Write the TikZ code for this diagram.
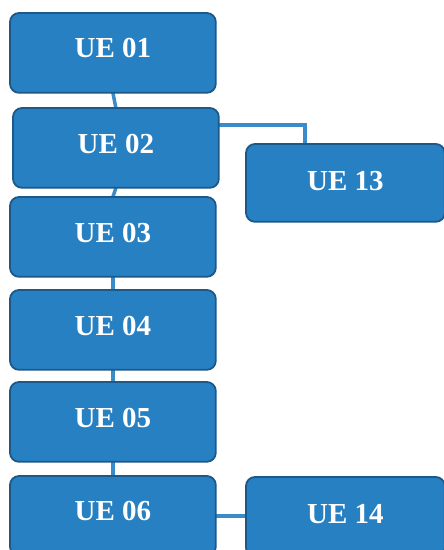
\documentclass[tikz,border=0pt]{standalone}
\usepackage{fontspec}
\setmainfont{Liberation Serif}
\usetikzlibrary{calc}
\definecolor{boxfill}{RGB}{38,128,194}
\definecolor{boxline}{RGB}{28,88,136}
\definecolor{linkcol}{RGB}{58,140,200}
\tikzset{
  uebox/.style={draw=boxline, line width=1.8pt, fill=boxfill, rounded corners=9pt,
    minimum width=204pt, minimum height=78pt, inner sep=0pt, anchor=north west},
  uetext/.style={text=white, font=\bfseries\fontsize{29}{32}\selectfont},
  link/.style={draw=linkcol, line width=3.5pt}
}
\begin{document}
\begin{tikzpicture}[x=1pt,y=-1pt]
\useasboundingbox (0,0) rectangle (444,550);
\clip (0,0) rectangle (444,550);
\path[uebox] (10,13) node[uebox] (ue01) {};
\path (13,108) node[uebox] (ue02) {};
\path (246,144) node[uebox, minimum width=197pt, minimum height=76pt] (ue13) {};
\path (10,197) node[uebox] (ue03) {};
\path (10,290) node[uebox] (ue04) {};
\path (10,382) node[uebox] (ue05) {};
\path (10,476) node[uebox] (ue06) {};
\path (246,477) node[uebox, minimum width=197pt] (ue14) {};
% connectors
\path[link] (ue01.south) -- (ue02.north);
\path[link] (ue02.south) -- (ue03.north);
\path[link] (ue03.south) -- (ue04.north);
\path[link] (ue04.south) -- (ue05.north);
\path[link] (ue05.south) -- (ue06.north);
\path[link] ($(ue02.north east)+(0,17)$) -| ($(ue13.north west)+(59,0)$);
\path[link] (ue06.east) -- (ue06.east -| ue14.west);
% boxes on top of connectors
\foreach \n in {ue01,ue02,ue13,ue03,ue04,ue05,ue06,ue14}{
  \draw[draw=boxline, line width=1.8pt, fill=boxfill, rounded corners=9pt]
    (\n.north west) rectangle (\n.south east);
}
\node[uetext] (t01) at ($(ue01.center)+(0,-5)$) {UE 01};
\node[uetext] (t02) at ($(ue02.center)+(0,-4)$) {UE 02};
\node[uetext] (t13) at ($(ue13.center)+(0,-2)$) {UE 13};
\node[uetext] (t03) at ($(ue03.center)+(0,-4)$) {UE 03};
\node[uetext] (t04) at ($(ue04.center)+(0,-4)$) {UE 04};
\node[uetext] (t05) at ($(ue05.center)+(0,-4)$) {UE 05};
\node[uetext] (t06) at ($(ue06.center)+(0,-5)$) {UE 06};
\node[uetext] (t14) at ($(ue14.center)+(0,-3)$) {UE 14};
\end{tikzpicture}
\end{document}
